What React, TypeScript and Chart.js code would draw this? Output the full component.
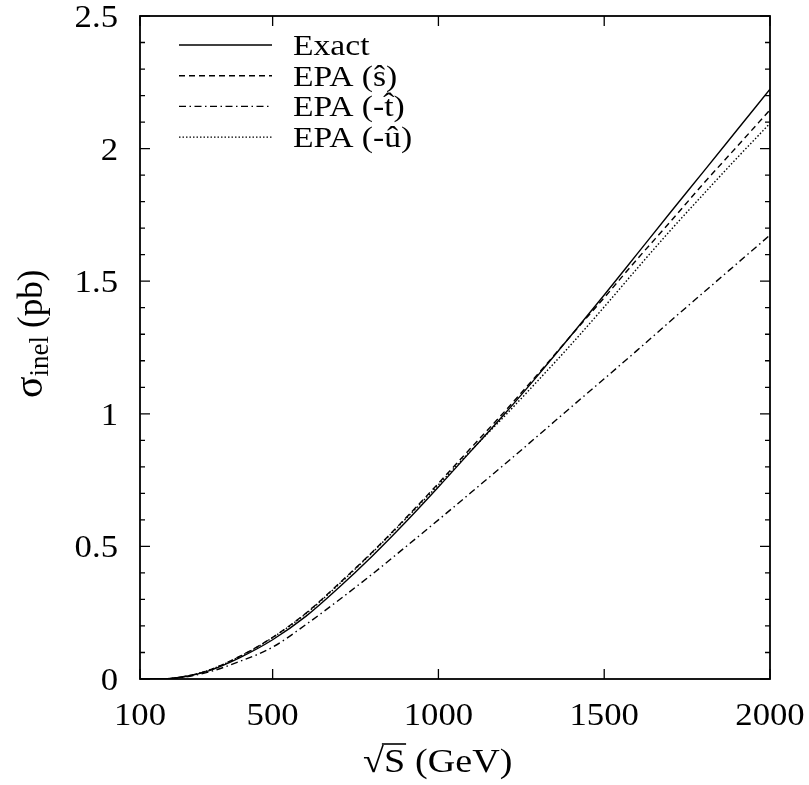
import { useEffect, useRef } from "react";
import { Chart, registerables } from "chart.js";

Chart.register(...registerables);

// sqrt(S) in GeV
const sqrtS = [100, 150, 200, 300, 400, 500, 600, 700, 800, 900, 1000, 1100, 1200, 1300, 1400, 1500, 1600, 1700, 1800, 1900, 2000];

// sigma_inel in pb
const exact = [0, 0.0005, 0.003, 0.028, 0.08, 0.148, 0.236, 0.345, 0.463, 0.59, 0.724, 0.862, 1.0, 1.145, 1.295, 1.448, 1.604, 1.76, 1.914, 2.069, 2.224];
const epaS = [0, 0.0005, 0.003, 0.03, 0.085, 0.157, 0.248, 0.36, 0.478, 0.605, 0.738, 0.874, 1.009, 1.15, 1.295, 1.438, 1.584, 1.725, 1.869, 2.007, 2.146];
const epaT = [0, 0.0004, 0.002, 0.024, 0.066, 0.12, 0.205, 0.298, 0.395, 0.497, 0.6, 0.705, 0.81, 0.917, 1.025, 1.132, 1.24, 1.35, 1.458, 1.566, 1.674];
const epaU = [0, 0.0005, 0.003, 0.03, 0.084, 0.156, 0.246, 0.357, 0.476, 0.602, 0.732, 0.864, 0.992, 1.125, 1.261, 1.403, 1.549, 1.692, 1.829, 1.964, 2.095];

const xTicks = [100, 500, 1000, 1500, 2000];
const yTicks = [0, 0.5, 1, 1.5, 2, 2.5];

const legendLabels = ["Exact", "EPA (\u015D)", "EPA (-t\u0302)", "EPA (-\u00FB)"];
const dashes: number[][] = [[], [6, 4], [7, 3.5, 1.5, 3.5], [1.5, 2]];

const serif = "'Liberation Serif', 'Times New Roman', serif";
const stretch = 1.12; // the original lettering is a little wider than Times

// draws text horizontally stretched, anchored at x
function wideText(ctx: CanvasRenderingContext2D, text: string, x: number, y: number, align: "left" | "center" | "right") {
  const w = ctx.measureText(text).width * stretch;
  const x0 = align === "left" ? x : align === "center" ? x - w / 2 : x - w;
  ctx.save();
  ctx.translate(x0, y);
  ctx.scale(stretch, 1);
  ctx.textAlign = "left";
  ctx.fillText(text, 0, 0);
  ctx.restore();
  return w;
}

const framePlugin = {
  id: "frame",
  afterDraw(chart: any) {
    const { ctx, chartArea, scales } = chart;
    const { left, right, top, bottom } = chartArea;
    ctx.save();
    ctx.strokeStyle = "#000";
    ctx.fillStyle = "#000";
    ctx.lineWidth = 1.3;
    ctx.beginPath();
    for (const v of xTicks) {
      const px = scales.x.getPixelForValue(v);
      ctx.moveTo(px, bottom);
      ctx.lineTo(px, bottom - 10);
      ctx.moveTo(px, top);
      ctx.lineTo(px, top + 10);
    }
    for (let k = 0; k <= 25; k++) {
      const py = scales.y.getPixelForValue(k / 10);
      const len = k % 5 === 0 ? 10 : 5;
      ctx.moveTo(left, py);
      ctx.lineTo(left + len, py);
      ctx.moveTo(right, py);
      ctx.lineTo(right - len, py);
    }
    ctx.stroke();
    ctx.lineWidth = 1.8;
    ctx.strokeRect(left, top, right - left, bottom - top);

    // tick labels
    ctx.font = `31px ${serif}`;
    ctx.textBaseline = "alphabetic";
    for (const v of xTicks) {
      wideText(ctx, String(v), scales.x.getPixelForValue(v), bottom + 46, "center");
    }
    for (const v of yTicks) {
      wideText(ctx, String(v), left - 22, scales.y.getPixelForValue(v) + 11, "right");
    }

    // legend
    ctx.font = `30px ${serif}`;
    legendLabels.forEach((label, i) => {
      const y = top + 29 + i * 30.7;
      ctx.lineWidth = 1.4;
      ctx.setLineDash(dashes[i]);
      ctx.beginPath();
      ctx.moveTo(left + 39, y);
      ctx.lineTo(left + 132, y);
      ctx.stroke();
      ctx.setLineDash([]);
      wideText(ctx, label, left + 153, y + 10, "left");
    });

    // y title: sigma_inel (pb), rotated
    ctx.save();
    ctx.translate(42, 398);
    ctx.rotate(-Math.PI / 2);
    let cx = 0;
    ctx.font = `40px ${serif}`;
    ctx.fillText("\u03C3", cx, 0);
    cx += ctx.measureText("\u03C3").width;
    ctx.font = `27px ${serif}`;
    ctx.fillText("inel", cx, 6);
    cx += ctx.measureText("inel").width + 8;
    ctx.font = `35px ${serif}`;
    ctx.fillText("(pb)", cx, 0);
    ctx.restore();

    // x title: sqrt(S) (GeV)
    ctx.font = `34px ${serif}`;
    let tx = 363;
    const by = 772;
    tx += wideText(ctx, "\u221A", tx, by, "left");
    const sW = wideText(ctx, "S", tx, by, "left");
    ctx.lineWidth = 1.6;
    ctx.beginPath();
    ctx.moveTo(tx - 2, by - 28);
    ctx.lineTo(tx + sW + 1, by - 28);
    ctx.stroke();
    tx += sW + 10;
    wideText(ctx, "(GeV)", tx, by, "left");
    ctx.restore();
  },
};

export default function App() {
  const canvasRef = useRef<HTMLCanvasElement | null>(null);

  useEffect(() => {
    if (!canvasRef.current) return;
    const series = [exact, epaS, epaT, epaU];
    const chart = new Chart(canvasRef.current, {
      type: "line",
      data: {
        datasets: series.map((vals, i) => ({
          label: legendLabels[i],
          data: sqrtS.map((x, j) => ({ x, y: vals[j] })),
          borderColor: "#000",
          borderWidth: 1.4,
          borderDash: dashes[i],
          pointRadius: 0,
          fill: false,
          cubicInterpolationMode: "monotone" as const,
        })),
      },
      options: {
        animation: false,
        responsive: true,
        maintainAspectRatio: false,
        layout: { padding: { top: 16, right: 39, left: 140, bottom: 106 } },
        plugins: { legend: { display: false }, tooltip: { enabled: false } },
        scales: {
          x: { type: "linear", min: 100, max: 2000, display: false },
          y: { type: "linear", min: 0, max: 2.5, display: false },
        },
      },
      plugins: [framePlugin],
    });
    return () => chart.destroy();
  }, []);

  return (
    <div style={{ position: "fixed", left: 0, top: 0, width: 809, height: 785, background: "#fff" }}>
      <canvas ref={canvasRef} />
    </div>
  );
}
